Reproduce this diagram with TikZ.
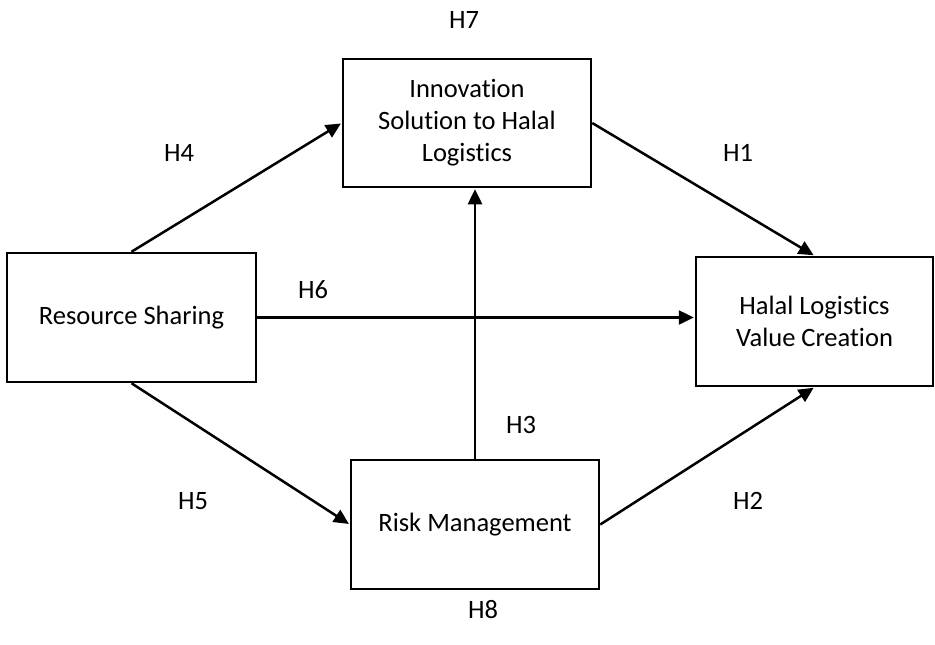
\documentclass[tikz,border=0pt]{standalone}
\usepackage{fontspec}
\setmainfont{Carlito}[Ligatures=NoCommon]
\usepackage{tikz}
\usetikzlibrary{arrows.meta}

\begin{document}
\begin{tikzpicture}[->,>={Triangle[length=15pt,width=14pt]},shorten >=1pt,
        x=1pt,y=-1pt,line width=2.5pt,
        construct/.style={draw,rectangle,align=center,inner sep=0pt,
          font=\fontsize{26.5}{32}\selectfont},
        hyp/.style={font=\fontsize{26.5}{32}\selectfont}]

  \useasboundingbox (0,0) rectangle (935,645);

  \node[construct,minimum width=248pt,minimum height=128pt] (inn) at (467,123)
    {Innovation\\Solution to Halal\\Logistics};
  \node[construct,minimum width=249pt,minimum height=129pt] (rs) at (131.5,317.5)
    {Resource Sharing};
  \node[construct,minimum width=237pt,minimum height=129pt] (hal) at (814.5,321.5)
    {Halal Logistics\\Value Creation};
  \node[construct,minimum width=248pt,minimum height=129pt] (risk) at (475,524.5)
    {Risk Management};

  \node[hyp] (h7) at (464,20) {H7};
  \node[hyp] (h4) at (179,153) {H4};
  \node[hyp] (h1) at (738,153) {H1};
  \node[hyp] (h6) at (313,290) {H6};
  \node[hyp] (h3) at (521,425) {H3};
  \node[hyp] (h5) at (193,501) {H5};
  \node[hyp] (h2) at (748,501) {H2};
  \node[hyp] (h8) at (483,610) {H8};

  \path (rs.north) edge (inn.west)
        (inn.east) edge (hal.north)
        (rs.east) edge (rs.east -| hal.west)
        (risk.north) edge (risk.north |- inn.south)
        (rs.south) edge (risk.west)
        (risk.east) edge (hal.south);

\end{tikzpicture}
\end{document}
